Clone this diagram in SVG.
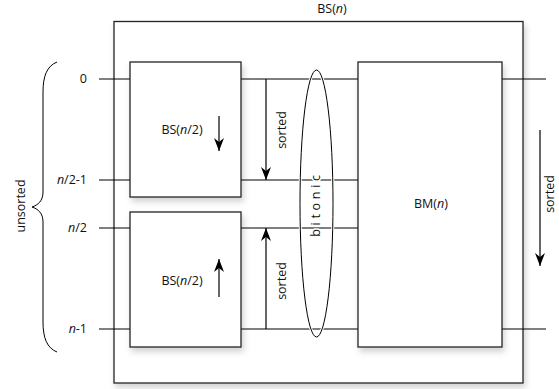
<svg xmlns="http://www.w3.org/2000/svg" width="559" height="389" viewBox="0 0 559 389">
<defs>
<filter id="sh" x="-10%" y="-10%" width="130%" height="130%">
<feDropShadow dx="2" dy="4" stdDeviation="3" flood-color="#000" flood-opacity="0.18"/>
</filter>
<marker id="ah" markerWidth="14" markerHeight="10" viewBox="0 0 14 10" refX="13" refY="5" orient="auto" markerUnits="userSpaceOnUse">
<path d="M0,0 L13,5 L0,10 L4,5 Z" fill="#000"/>
</marker>
</defs>
<style>
text{font-family:"Open Sans","Liberation Sans",sans-serif;font-size:12.5px;fill:#111}
.box{fill:#fff;stroke:#222;stroke-width:1.3}
.ln{stroke:#000;stroke-width:1;fill:none}
.arr{stroke:#000;stroke-width:1.2;fill:none}
.m{text-anchor:middle}
.r{text-anchor:end}
</style>
<g id="outer"><rect class="box" x="114" y="21.5" width="409" height="361.5" filter="url(#sh)"/><text class="m" x="332" y="13">BS(<tspan font-style="italic">n</tspan>)</text></g>
<g id="connectors">
<line class="ln" x1="99" y1="79" x2="130" y2="79"/>
<line class="ln" x1="99" y1="180" x2="130" y2="180"/>
<line class="ln" x1="99" y1="228" x2="130" y2="228"/>
<line class="ln" x1="99" y1="329" x2="130" y2="329"/>
<line class="ln" x1="241" y1="79" x2="358" y2="79"/>
<line class="ln" x1="241" y1="180" x2="358" y2="180"/>
<line class="ln" x1="241" y1="228" x2="358" y2="228"/>
<line class="ln" x1="241" y1="329" x2="358" y2="329"/>
<line class="ln" x1="502" y1="79" x2="546" y2="79"/>
<line class="ln" x1="502" y1="329" x2="546" y2="329"/>
<line class="arr" x1="266" y1="79" x2="266" y2="180" marker-end="url(#ah)"/>
<line class="arr" x1="266" y1="329" x2="266" y2="228" marker-end="url(#ah)"/>
<line class="arr" x1="540" y1="130" x2="540" y2="266" marker-end="url(#ah)"/>
</g>
<g id="bs-top"><rect class="box" x="130" y="62" width="111" height="135" filter="url(#sh)"/><text class="m" x="182" y="134">BS(<tspan font-style="italic">n</tspan>/2)</text><line class="arr" x1="219" y1="116" x2="219" y2="151" marker-end="url(#ah)"/></g>
<g id="bs-bottom"><rect class="box" x="130" y="212" width="111" height="135" filter="url(#sh)"/><text class="m" x="182" y="285">BS(<tspan font-style="italic">n</tspan>/2)</text><line class="arr" x1="219" y1="297" x2="219" y2="259" marker-end="url(#ah)"/></g>
<g id="bm"><rect class="box" x="358" y="62" width="144" height="285" filter="url(#sh)"/><text class="m" x="431" y="208">BM(<tspan font-style="italic">n</tspan>)</text></g>
<g id="bitonic"><ellipse cx="316.5" cy="203.5" rx="16.5" ry="133.5" fill="none" stroke="#fff" stroke-width="3"/><ellipse cx="316.5" cy="203.5" rx="16.5" ry="133.5" fill="none" stroke="#000" stroke-width="1"/><text class="m" transform="translate(320,204) rotate(-90)" letter-spacing="3.7" stroke="#fff" stroke-width="3" paint-order="stroke">bitonic</text></g>
<g id="labels">
<text class="r" x="87" y="83">0</text>
<text class="r" x="87" y="184"><tspan font-style="italic">n</tspan>/2-1</text>
<text class="r" x="87" y="232"><tspan font-style="italic">n</tspan>/2</text>
<text class="r" x="87" y="333"><tspan font-style="italic">n</tspan>-1</text>
<text class="m" transform="translate(286,130) rotate(-90)">sorted</text>
<text class="m" transform="translate(286,281) rotate(-90)">sorted</text>
<text class="m" transform="translate(554,194) rotate(-90)">sorted</text>
<text class="m" transform="translate(25,206) rotate(-90)">unsorted</text>
</g>
<g id="brace"><path class="ln" d="M57,62 C47,66 43,76 43,92 L43,192 C43,201 38,205 32,207 C38,209 43,213 43,222 L43,322 C43,338 47,348 57,352"/></g>
</svg>
